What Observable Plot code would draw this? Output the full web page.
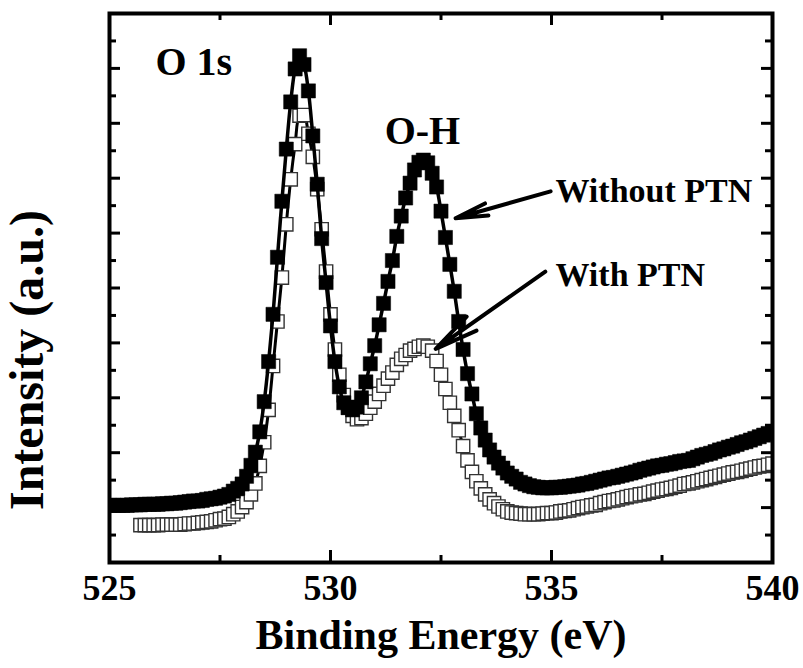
<!DOCTYPE html>
<html>
<head>
<meta charset="utf-8">
<script src="https://cdn.jsdelivr.net/npm/d3@7"></script>
<script src="https://cdn.jsdelivr.net/npm/@observablehq/plot@0.6"></script>
<style>
  html, body { margin: 0; padding: 0; background: #fff; }
</style>
</head>
<body>
<div id="chart"></div>
<script>
// O 1s XPS spectra, binding energy in eV (0.1 eV steps)
const energy = [
  525.0,525.1,525.2,525.3,525.4,525.5,525.6,525.7,525.8,525.9,
  526.0,526.1,526.2,526.3,526.4,526.5,526.6,526.7,526.8,526.9,
  527.0,527.1,527.2,527.3,527.4,527.5,527.6,527.7,527.8,527.9,
  528.0,528.1,528.2,528.3,528.4,528.5,528.6,528.7,528.8,528.9,
  529.0,529.1,529.2,529.3,529.4,529.5,529.6,529.7,529.8,529.9,
  530.0,530.1,530.2,530.3,530.4,530.5,530.6,530.7,530.8,530.9,
  531.0,531.1,531.2,531.3,531.4,531.5,531.6,531.7,531.8,531.9,
  532.0,532.1,532.2,532.3,532.4,532.5,532.6,532.7,532.8,532.9,
  533.0,533.1,533.2,533.3,533.4,533.5,533.6,533.7,533.8,533.9,
  534.0,534.1,534.2,534.3,534.4,534.5,534.6,534.7,534.8,534.9,
  535.0,535.1,535.2,535.3,535.4,535.5,535.6,535.7,535.8,535.9,
  536.0,536.1,536.2,536.3,536.4,536.5,536.6,536.7,536.8,536.9,
  537.0,537.1,537.2,537.3,537.4,537.5,537.6,537.7,537.8,537.9,
  538.0,538.1,538.2,538.3,538.4,538.5,538.6,538.7,538.8,538.9,
  539.0,539.1,539.2,539.3,539.4,539.5,539.6,539.7,539.8,539.9,
  540.0
];

// Intensity (a.u.) without PTN
const withoutPTN = [
  1.04,1.04,1.04,1.04,1.04,1.05,1.05,1.05,1.06,1.06,
  1.06,1.06,1.07,1.07,1.08,1.08,1.09,1.10,1.11,1.12,
  1.12,1.13,1.15,1.16,1.17,1.19,1.21,1.24,1.30,1.35,
  1.43,1.57,1.77,2.01,2.38,2.93,3.66,4.52,5.56,6.58,
  7.53,8.39,8.99,9.23,9.07,8.59,7.77,6.89,5.90,5.10,
  4.31,3.66,3.20,2.91,2.82,2.78,2.83,3.00,3.29,3.62,
  3.95,4.33,4.72,5.12,5.50,5.94,6.31,6.64,6.91,7.15,
  7.29,7.33,7.28,7.09,6.84,6.40,5.92,5.43,4.94,4.39,
  3.88,3.44,3.07,2.71,2.45,2.23,2.05,1.92,1.81,1.72,
  1.63,1.57,1.52,1.46,1.43,1.40,1.38,1.37,1.36,1.36,
  1.36,1.37,1.37,1.38,1.39,1.40,1.41,1.43,1.44,1.46,
  1.48,1.50,1.52,1.54,1.55,1.57,1.59,1.61,1.63,1.65,
  1.68,1.70,1.72,1.74,1.76,1.77,1.79,1.80,1.82,1.84,
  1.85,1.86,1.89,1.92,1.95,1.97,1.99,2.02,2.05,2.07,
  2.10,2.12,2.15,2.18,2.20,2.23,2.26,2.29,2.32,2.35,
  2.38
];

// Intensity (a.u.) with PTN (scan starts at 525.7 eV)
const withPTN = [
  null,null,null,null,null,null,null,0.68,0.68,0.68,
  0.68,0.68,0.69,0.69,0.69,0.69,0.69,0.70,0.71,0.71,
  0.72,0.73,0.74,0.75,0.77,0.79,0.80,0.83,0.88,0.93,
  1.01,1.10,1.24,1.44,1.76,2.19,2.78,3.58,4.39,5.19,
  6.16,6.98,7.62,8.14,8.15,7.81,7.39,6.80,6.07,5.30,
  4.52,3.88,3.42,3.05,2.82,2.67,2.61,2.63,2.71,2.82,
  2.93,3.07,3.22,3.35,3.46,3.60,3.71,3.78,3.86,3.89,
  3.93,3.95,3.93,3.86,3.67,3.42,3.16,2.91,2.67,2.41,
  2.12,1.86,1.65,1.48,1.35,1.24,1.15,1.08,1.02,0.97,
  0.93,0.91,0.90,0.89,0.88,0.88,0.88,0.88,0.89,0.90,
  0.90,0.91,0.93,0.94,0.95,0.97,0.99,1.01,1.02,1.04,
  1.05,1.08,1.10,1.12,1.13,1.15,1.17,1.19,1.21,1.22,
  1.24,1.25,1.27,1.29,1.31,1.33,1.34,1.36,1.38,1.40,
  1.43,1.44,1.46,1.48,1.50,1.52,1.54,1.56,1.58,1.60,
  1.62,1.64,1.65,1.67,1.69,1.71,1.73,1.75,1.76,1.78,
  1.80
];

// Axis ticks
const xTickLabels = [525, 530, 535, 540];
const xMinorTicks = [527.5, 532.5, 537.5];
const yMajorTicks = [1, 2, 3, 4, 5, 6, 7, 8, 9];
const yMinorTicks = [0.5, 1.5, 2.5, 3.5, 4.5, 5.5, 6.5, 7.5, 8.5, 9.5];

// Peak labels and series call-outs
const peakLabels = ["O 1s", "O-H"];
const peakLabelX = [526.04, 532.08];
const peakLabelY = [8.88, 7.62];
const seriesLabels = ["Without PTN", "With PTN"];
const seriesLabelX = [535.09, 535.09];
const seriesLabelY = [6.56, 5.03];
const arrowFromX = [534.98, 534.86];
const arrowFromY = [6.76, 5.30];
const arrowToX = [532.83, 532.38];
const arrowToY = [6.27, 3.89];

const W = 803, H = 668;
const mL = 109, mR = 31, mT = 13, mB = 106;
const frameW = W - mL - mR, frameH = H - mT - mB;
const serif = '"Times New Roman", "Liberation Serif", "DejaVu Serif", serif';

const rowsWithout = energy.map((e, i) => ({e, v: withoutPTN[i]}));
const rowsWith = energy.map((e, i) => ({e, v: withPTN[i]})).filter(d => d.v != null);
const callouts = seriesLabels.map((t, i) => ({
  t, x: seriesLabelX[i], y: seriesLabelY[i],
  x1: arrowFromX[i], y1: arrowFromY[i], x2: arrowToX[i], y2: arrowToY[i]
}));

const textStyle = {fontFamily: serif, fontWeight: "bold", fill: "#000"};

const chart = Plot.plot({
  width: W,
  height: H,
  marginLeft: mL,
  marginRight: mR,
  marginTop: mT,
  marginBottom: mB,
  style: {background: "#fff", fontFamily: serif},
  x: {domain: [525, 540], axis: null},
  y: {domain: [0, 10], axis: null},
  marks: [
    // With PTN: open squares over a fitted line
    Plot.line(rowsWith, {x: "e", y: "v", stroke: "#000", strokeWidth: 3, curve: "catmull-rom", clip: true}),
    Plot.dot(rowsWith, {x: "e", y: "v", symbol: "square", r: 7.5, fill: "#fff", stroke: "#333", strokeWidth: 1.4, clip: true}),
    // Without PTN: filled squares over a fitted line
    Plot.line(rowsWithout, {x: "e", y: "v", stroke: "#000", strokeWidth: 3.5, curve: "catmull-rom", clip: true}),
    Plot.dot(rowsWithout, {x: "e", y: "v", symbol: "square", r: 8, fill: "#000", stroke: "#000", strokeWidth: 0.5, clip: true}),

    // call-out arrows (narrow, nearly solid heads) and labels
    Plot.arrow(callouts, {x1: "x1", y1: "y1", x2: "x2", y2: "y2", stroke: "#000", strokeWidth: 4, headLength: 21, headAngle: 22}),
    Plot.text(callouts, {x: "x", y: "y", text: "t", textAnchor: "start", lineAnchor: "bottom", fontSize: 34, ...textStyle}),
    Plot.text([0], {x: peakLabelX[0], y: peakLabelY[0], text: () => peakLabels[0], textAnchor: "start", lineAnchor: "bottom", fontSize: 40, ...textStyle}),
    Plot.text([1], {x: peakLabelX[1], y: peakLabelY[1], text: () => peakLabels[1], textAnchor: "middle", lineAnchor: "bottom", fontSize: 40, ...textStyle}),

    // inward ticks on all four sides
    Plot.tickX(xTickLabels, {x: d => d, insetTop: frameH - 12, stroke: "#000", strokeWidth: 3}),
    Plot.tickX(xMinorTicks, {x: d => d, insetTop: frameH - 7, stroke: "#000", strokeWidth: 3}),
    Plot.tickX(xTickLabels, {x: d => d, insetBottom: frameH - 12, stroke: "#000", strokeWidth: 3}),
    Plot.tickX(xMinorTicks, {x: d => d, insetBottom: frameH - 7, stroke: "#000", strokeWidth: 3}),
    Plot.tickY(yMajorTicks, {y: d => d, insetRight: frameW - 11, stroke: "#000", strokeWidth: 3}),
    Plot.tickY(yMinorTicks, {y: d => d, insetRight: frameW - 7, stroke: "#000", strokeWidth: 3}),
    Plot.tickY(yMajorTicks, {y: d => d, insetLeft: frameW - 11, stroke: "#000", strokeWidth: 3}),
    Plot.tickY(yMinorTicks, {y: d => d, insetLeft: frameW - 7, stroke: "#000", strokeWidth: 3}),
    Plot.frame({stroke: "#000", strokeWidth: 4}),

    // tick labels and axis titles
    Plot.text(xTickLabels, {x: d => d, text: d => String(d), frameAnchor: "bottom", dy: 12, lineAnchor: "top", fontSize: 36, ariaLabel: "x-axis-text", ...textStyle}),
    Plot.text(["Binding Energy (eV)"], {text: d => d, frameAnchor: "bottom", textAnchor: "middle", dy: 86, lineAnchor: "bottom", fontSize: 42, ariaLabel: "x-axis-text", ...textStyle}),
    Plot.text(["Intensity (a.u.)"], {text: d => d, frameAnchor: "left", textAnchor: "middle", rotate: -90, dx: -67, dy: 72, lineAnchor: "bottom", fontSize: 48, ariaLabel: "y-axis-text", ...textStyle})
  ]
});

// axis lettering is set tall and narrow: stretch it vertically about each label's anchor
function stretchText(label, s) {
  d3.select(chart).selectAll(`g[aria-label="${label}"] text`).each(function () {
    const el = d3.select(this);
    const t = el.attr("transform") || "";
    const m = t.match(/translate\(([^)]*)\)/);
    if (m) {
      el.attr("transform", t.replace(m[0], `${m[0]} scale(1,${s})`));
    } else {
      const x = +el.attr("x") || 0, y = +el.attr("y") || 0;
      el.attr("transform", `translate(${x},${y}) scale(1,${s}) translate(${-x},${-y}) ${t}`);
    }
  });
}
stretchText("x-axis-text", 1.28);
stretchText("y-axis-text", 1.34);

document.getElementById("chart").appendChild(chart);
</script>
</body>
</html>
